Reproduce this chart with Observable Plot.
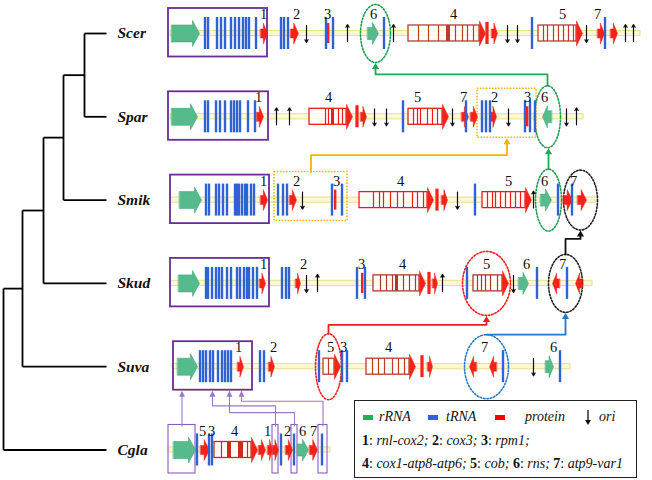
<!DOCTYPE html>
<html><head><meta charset="utf-8">
<script src="https://cdn.jsdelivr.net/npm/d3@7"></script>
<script src="https://cdn.jsdelivr.net/npm/@observablehq/plot@0.6"></script>
<style>
body{margin:0;background:#fff;}
#wrap{position:relative;width:652px;height:480px;overflow:hidden;}
#legend{position:absolute;left:354px;top:400px;width:283px;height:78px;border:1.8px solid #222;box-sizing:border-box;font-family:"Liberation Serif","Times New Roman",Times,serif;font-size:14px;color:#111;background:#fff;}
#legend .row{position:absolute;left:7px;white-space:nowrap;line-height:16px;}
#legend .sw{position:absolute;width:10px;height:5px;top:6px;}
#legend .lab{position:absolute;font-style:italic;}
</style></head>
<body>
<div id="wrap"><div id="chart"></div>
<div id="legend">
  <div class="row" style="top:8px;left:0;width:280px;height:16px;">
    <span class="sw" style="left:8px;background:#1fae5a"></span><span class="lab" style="left:24px">rRNA</span>
    <span class="sw" style="left:73px;background:#2f62d2"></span><span class="lab" style="left:91px">tRNA</span>
    <span class="sw" style="left:140px;background:#ff0000"></span><span class="lab" style="left:170px">protein</span>
    <svg style="position:absolute;left:229px;top:0" width="8" height="17"><line x1="4" y1="1" x2="4" y2="13" stroke="#111" stroke-width="1.3"/><path d="M1,11 L4,16 L7,11 Z" fill="#111"/></svg>
    <span class="lab" style="left:244px">ori</span>
  </div>
  <div class="row" style="top:32px;"><b>1</b>: <i>rnl-cox2;</i> <b>2</b>: <i>cox3;</i> <b>3</b>: <i>rpm1;</i></div>
  <div class="row" style="top:55px;"><b>4</b>: <i>cox1-atp8-atp6;</i> <b>5</b>: <i>cob;</i> <b>6</b>: <i>rns;</i> <b>7</b>: <i>atp9-var1</i></div>
</div>
</div>
<script>
// ---------------- DATA ----------------
const species = ["Scer","Spar","Smik","Skud","Suva","Cgla"];
// tree joins: [node, childA, childB, depth]
const treeJoins = [["n1","Scer","Spar",84],["n2","n1","Smik",63],["n3","n2","Skud",43],["n4","n3","Suva",22],["root","n4","Cgla",3]];
const leafDepth = 106;

// genome backbone extents
const backbone = [["Scer",170,640],["Spar",170,583],["Smik",170,595],["Skud",170,592],["Suva",172,570],["Cgla",168,330]];
// large rRNA (rnl)
const rnl = [["Scer",171,199],["Spar",171,197],["Smik",179,201],["Skud",178,199],["Suva",177,197],["Cgla",173,195]];
// small rRNA (rns, gene 6): species, start, end, strand
const rns = [["Scer",367,378,1],["Spar",542,551,-1],["Smik",540,551,1],["Skud",518,528,1],["Suva",545,553,1],["Cgla",297,308,1]];
// tRNA genes
const trnaScer = [205,208,217,221,225,231,235,239,243,246,249,256,281,284,288,326,333,384,532,605];
const trnaSpar = [205,208,216,220,225,231,234,237,240,248,255,403,466,482,486,490,525,530,535];
const trnaSmik = [206,209,216,219,223,227,235,237,239,242,245,247,251,254,278,283,287,332,342,475,558,572];
const trnaSkud = [206,208,212,216,219,222,227,231,237,240,244,247,249,253,257,282,286,289,357,365,467,537,567];
const trnaSuva = [200,203,206,210,213,218,222,225,228,231,260,264,319,342,347,503,560];
const trnaCgla = [197,209,212,281,294,322];
// rpm1 (gene 3) thin protein bars
const rpm1 = [["Scer",328],["Spar",527],["Smik",335],["Skud",362]];
// other short protein ORFs (bars)
const orfBars = [["Scer",487],["Spar",357],["Smik",437],["Skud",429],["Suva",422]];
// short protein genes: species, start, end, strand
const proteins = [
 ["Scer",260,267,1],["Scer",290,298,1],["Scer",491,497,1],["Scer",597,604,1],["Scer",610,617,1],
 ["Spar",256,263,1],["Spar",360,366,1],["Spar",461,468,1],["Spar",470,477,1],["Spar",490,496,1],
 ["Smik",260,267,1],["Smik",289,296,1],["Smik",441,447,1],["Smik",563,572,1],["Smik",577,586,1],
 ["Skud",259,265,1],["Skud",295,300,1],["Skud",432,437,1],["Skud",552,559,-1],["Skud",575,582,-1],
 ["Suva",237,243,1],["Suva",268,274,1],["Suva",427,432,1],["Suva",469,476,-1],["Suva",489,496,-1],
 ["Cgla",200,209,1],["Cgla",258,265,1],["Cgla",267,272,1],["Cgla",272,278,1],["Cgla",285,292,1],["Cgla",309,317,1]
];
// intron-rich genes (4 = cox1-atp8-atp6, 5 = cob): species, start, end, exon boundaries, filled exons
const mosaic = [
 ["Scer",408,485,[418,428,438,455,462,467,473],[[446,450]]],
 ["Scer",538,582,[543,547,553,558,563,568,573],[]],
 ["Spar",309,352,[325,328,338,342],[[331,334]]],
 ["Spar",408,448,[413,417,420,427,432,437],[]],
 ["Smik",359,433,[373,379,383,390,397,403,412,417,423],[]],
 ["Smik",482,531,[487,492,495,500,505,510,515,520],[]],
 ["Skud",373,425,[380,386,392,403,409,415],[[395,398]]],
 ["Skud",473,508,[477,481,485,490,497],[]],
 ["Suva",366,415,[372,378,384,392,398,404],[]],
 ["Suva",323,340,[328],[]],
 ["Cgla",214,257,[221,247],[[227,231],[238,243]]]
];
// replication origins: species, position, direction (1 down / -1 up), putative (dashed)
const ori = [
 ["Scer",306,1,1],["Scer",347,-1,1],["Scer",393,-1,0],["Scer",507,1,1],["Scer",517,1,0],["Scer",586,1,1],["Scer",625,-1,0],["Scer",633,-1,1],
 ["Spar",276,-1,0],["Spar",289,-1,0],["Spar",374,1,0],["Spar",386,1,0],["Spar",452,1,1],["Spar",508,1,0],["Spar",566,1,0],["Spar",576,-1,0],
 ["Smik",302,1,0],["Smik",457,1,0],["Smik",533,-1,0],
 ["Skud",306,1,0],["Skud",317,-1,0],["Skud",442,-1,0],["Skud",513,1,0],
 ["Suva",533,1,0]
];
// gene number labels
const geneLabels = [
 ["Scer","1",263],["Scer","2",296],["Scer","3",327],["Scer","6",373],["Scer","4",453],["Scer","5",562],["Scer","7",597],
 ["Spar","1",258],["Spar","4",328],["Spar","5",417],["Spar","7",463],["Spar","2",494],["Spar","3",527],["Spar","6",544],
 ["Smik","1",263],["Smik","2",296],["Smik","3",336],["Smik","4",400],["Smik","5",508],["Smik","6",544],["Smik","7",573],
 ["Skud","1",263],["Skud","2",303],["Skud","3",361],["Skud","4",402],["Skud","5",486],["Skud","6",526],["Skud","7",562],
 ["Suva","1",238],["Suva","2",273],["Suva","5",330],["Suva","3",343],["Suva","4",388],["Suva","7",484],["Suva","6",553],
 ["Cgla","5",202],["Cgla","3",211],["Cgla","4",234],["Cgla","1",267],["Cgla","2",287],["Cgla","6",302],["Cgla","7",313]
];
// conserved blocks (purple boxes)
const blocks = [["Scer",168,267],["Spar",168,268],["Smik",170,269],["Skud",170,269],["Suva",173,252],["Cgla",168,195],["Cgla",272,278],["Cgla",291,297],["Cgla",318,327]];
// translocated segments (orange dotted boxes)
const segments = [["Spar",477,536],["Smik",274,347]];
// highlighted regions: species, centre, half width, half height, kind
const regions = [
 ["Scer",375,15,29,"rRNA"],["Spar",547,13,31,"rRNA"],["Smik",548,13,31,"rRNA"],["Smik",580,17,30,"atp9"],
 ["Skud",486,24,32,"cob"],["Skud",565,17,29,"atp9"],["Suva",328,13,33,"cob"],["Suva",486,22,32,"atp9b"]
];
// rearrangement links between regions: from region, to region, elbow fraction
const regionLinks = [[1,0,0.5],[2,1,0.5],[5,3,0.65],[6,4,0.5],[7,5,0]];
const segmentLinks = [[1,0,0.5]];
// Cgla blocks -> Suva block: from block index, target x, elbow fraction
const blockLinks = [[5,182,0],[6,212,0.57],[7,229,0.38],[8,241,0.70]];

// ---------------- STYLE / LAYOUT ----------------
const ROW0 = 33, ROWSTEP = 83.3;
const rowY = sp => ROW0 + ROWSTEP * species.indexOf(sp);
const C = {green:"#55bb8c", blue:"#2f62d2", red:"#f4221a"};
const regionColor = {rRNA:"#1f9e4f", atp9:"#222", cob:"#ee2020", atp9b:"#2a7cc4"};
const linkColor = {rRNA:"#1aab5a", atp9:"#111", cob:"#ee1c1c", atp9b:"#2278c6", seg:"#f5b400", block:"#9a7ac8"};
const mosaicStroke = {Scer:"#c0392b",Spar:"#f01a1a",Smik:"#f01a1a",Skud:"#b5342a",Suva:"#c0392b",Cgla:"#d02a20"};
const serif = "Liberation Serif";

// ---------------- DERIVED GEOMETRY ----------------
const nodes = {};
species.forEach(s => nodes[s] = {x: leafDepth, y: rowY(s)});
const treeEdges = [];
for (const [n,a,b,d] of treeJoins) {
  const A = nodes[a], B = nodes[b];
  nodes[n] = {x: d, y: (A.y + B.y) / 2};
  treeEdges.push({x1:d,y1:A.y,x2:A.x,y2:A.y},{x1:d,y1:B.y,x2:B.x,y2:B.y},{x1:d,y1:A.y,x2:d,y2:B.y});
}

function arrowPts(x0,x1,y,dir,bodyH,headH,headLen){
  return dir > 0
   ? [[x0,y-bodyH],[x1-headLen,y-bodyH],[x1-headLen,y-headH],[x1,y],[x1-headLen,y+headH],[x1-headLen,y+bodyH],[x0,y+bodyH]]
   : [[x1,y-bodyH],[x0+headLen,y-bodyH],[x0+headLen,y-headH],[x0,y],[x0+headLen,y+headH],[x0+headLen,y+bodyH],[x1,y+bodyH]];
}
let pid = 0;
const toPoly = pts => { const id = pid++; return pts.map(([x,y]) => ({id,x,y})); };

const rnlPolys = rnl.flatMap(([s,a,b]) => toPoly(arrowPts(a,b,rowY(s),1,8.5,13,7)));
const rnsPolys = rns.flatMap(([s,a,b,d]) => toPoly(arrowPts(a,b,rowY(s),d,6,11,(b-a)*0.55)));
const protPolys = proteins.flatMap(([s,a,b,d]) => toPoly(arrowPts(a,b,rowY(s),d,4.5,10.5,(b-a)*0.6)));
const headPolys = mosaic.flatMap(([s,a,b]) => toPoly(arrowPts(b-6,b,rowY(s),1,0,12.5,6)));

const trna = [["Scer",trnaScer],["Spar",trnaSpar],["Smik",trnaSmik],["Skud",trnaSkud],["Suva",trnaSuva],["Cgla",trnaCgla]]
  .flatMap(([s,xs]) => xs.map(x => ({s, x, y: rowY(s)})));

const mosaicBoxes = mosaic.map(([s,a,b]) => ({s, x1:a, x2:b-6, y: rowY(s)}));
const mosaicDiv = mosaic.flatMap(([s,a,b,divs]) => divs.map(x => ({s, x, y: rowY(s)})));
const mosaicFill = mosaic.flatMap(([s,a,b,divs,fills]) => fills.map(([f1,f2]) => ({s, x1:f1, x2:f2, y: rowY(s)})));

const ellipsePts = regions.flatMap(([s,cx,rx,ry,k], i) => d3.range(73).map(j => {
  const t = j / 72 * 2 * Math.PI; return {id:i, k, x: cx + rx*Math.cos(t), y: rowY(s) + ry*Math.sin(t)};
}));

// elbow connector ending with an upward arrowhead
const HEAD = 6;
function elbow(x0,y0,x1,y1,frac){
  if (Math.abs(x0-x1) < 3) return [[x0,y0],[x0,y1]];
  const ym = y0 + (y1 - y0) * frac;
  return [[x0,y0],[x0,ym],[x1,ym],[x1,y1]];
}
const linkPaths = [], linkHeads = [];
function addLink(id, k, pts, sw){
  const [tx,ty] = pts[pts.length-1];
  const body = pts.slice(0,-1).concat([[tx, ty + HEAD - 0.5]]);
  body.forEach(([x,y]) => linkPaths.push({id, k, sw, x, y}));
  const hw = sw > 1.5 ? 3.6 : 3;
  [[tx,ty],[tx-hw,ty+HEAD],[tx+hw,ty+HEAD]].forEach(([x,y]) => linkHeads.push({id, k, x, y}));
}
regionLinks.forEach(([f,t,fr], i) => {
  const F = regions[f], T = regions[t];
  addLink("r"+i, F[4], elbow(F[1], rowY(F[0]) - F[3], T[1], rowY(T[0]) + T[3] + 0.5, fr), 1.8);
});
segmentLinks.forEach(([f,t,fr], i) => {
  const F = segments[f], T = segments[t];
  addLink("s"+i, "seg", elbow((F[1]+F[2])/2, rowY(F[0]) - 28, (T[1]+T[2])/2, rowY(T[0]) + 21.5, fr), 1.8);
});
blockLinks.forEach(([f,tx,fr], i) => {
  const F = blocks[f];
  addLink("b"+i, "block", elbow((F[1]+F[2])/2, rowY(F[0]) - 24, tx, rowY("Suva") + 24, fr), 1.1);
});

// ---------------- PLOT ----------------
const chart = Plot.plot({
  width: 652, height: 480, margin: 0,
  x: {domain:[0,652], range:[0,652], axis:null},
  y: {domain:[0,480], range:[0,480], axis:null},
  style: {background:"white"},
  marks: [
    Plot.link(treeEdges, {x1:"x1", y1:"y1", x2:"x2", y2:"y2", stroke:"#000", strokeWidth:1.8}),
    Plot.text(species, {x: leafDepth + 11, y: d => rowY(d), text: d => d, textAnchor:"start",
      fontFamily: serif, fontSize: 15.5, fontWeight:"bold", fontStyle:"italic", fill:"#111"}),
    // backbone
    Plot.rect(backbone, {x1: d => d[1], x2: d => d[2], y1: d => rowY(d[0]) - 2.6, y2: d => rowY(d[0]) + 2.6,
      fill:"#fbf8d2", stroke:"#e4dc8c", strokeWidth:0.9}),
    // blocks
    Plot.rect(blocks, {x1: d => d[1], x2: d => d[2], y1: d => rowY(d[0]) - 25, y2: d => rowY(d[0]) + 23.5,
      fill:"none", stroke: d => d[0] === "Cgla" ? "#8a5cc0" : "#6a2c95", strokeWidth: d => d[0] === "Cgla" ? 1.1 : 1.8}),
    Plot.rect(segments, {x1: d => d[1], x2: d => d[2], y1: d => rowY(d[0]) - 28, y2: d => rowY(d[0]) + 21,
      fill:"none", stroke:"#f5b400", strokeWidth:1.5, strokeDasharray:"1.5,1.5"}),
    // highlighted regions
    Plot.line(ellipsePts, {x:"x", y:"y", z:"id", stroke: d => regionColor[d.k], strokeWidth:1.6,
      strokeDasharray:"1.6,1.8", curve:"linear-closed"}),
    // links
    Plot.line(linkPaths, {x:"x", y:"y", z:"id", stroke: d => linkColor[d.k], strokeWidth: d => d.sw}),
    Plot.line(linkHeads, {x:"x", y:"y", z:"id", fill: d => linkColor[d.k], stroke:"none", curve:"linear-closed"}),
    // mosaic genes
    Plot.rect(mosaicBoxes, {x1:"x1", x2:"x2", y1: d => d.y - 8, y2: d => d.y + 8, fill:"white", fillOpacity:0.75,
      stroke: d => mosaicStroke[d.s], strokeWidth:1.3}),
    Plot.rect(mosaicFill, {x1:"x1", x2:"x2", y1: d => d.y - 8, y2: d => d.y + 8, fill: d => mosaicStroke[d.s]}),
    Plot.ruleX(mosaicDiv, {x:"x", y1: d => d.y - 8, y2: d => d.y + 8, stroke: d => mosaicStroke[d.s], strokeWidth:1.2}),
    Plot.line(headPolys, {x:"x", y:"y", z:"id", fill: C.red, stroke: C.red, strokeWidth:0.5, curve:"linear-closed"}),
    // rRNA
    Plot.line(rnlPolys, {x:"x", y:"y", z:"id", fill: C.green, stroke:"#44a877", strokeWidth:0.6, curve:"linear-closed"}),
    Plot.line(rnsPolys, {x:"x", y:"y", z:"id", fill: C.green, stroke:"#44a877", strokeWidth:0.6, curve:"linear-closed"}),
    // proteins
    Plot.line(protPolys, {x:"x", y:"y", z:"id", fill: C.red, stroke: C.red, strokeWidth:0.5, curve:"linear-closed"}),
    Plot.rect(orfBars, {x1: d => d[1] - 1.6, x2: d => d[1] + 1.6, y1: d => rowY(d[0]) - 11, y2: d => rowY(d[0]) + 11, fill: C.red}),
    // tRNA
    Plot.rect(trna, {x1: d => d.x - 1.2, x2: d => d.x + 1.2, y1: d => d.y - 16, y2: d => d.y + 16, fill: C.blue}),
    Plot.rect(rpm1, {x1: d => d[1] - 1, x2: d => d[1] + 1.4, y1: d => rowY(d[0]) - 10, y2: d => rowY(d[0]) + 10, fill: C.red}),
    // origins
    Plot.arrow(ori, {x1: d => d[1], x2: d => d[1], y1: d => rowY(d[0]) - 8*d[2], y2: d => rowY(d[0]) + 9*d[2],
      stroke:"#111", strokeWidth:1.2, headLength:4, strokeDasharray: d => d[3] ? "2,1.5" : null}),
    // gene numbers
    Plot.text(geneLabels, {x: d => d[2], y: d => rowY(d[0]) - 19, text: d => d[1], fontFamily: serif, fontSize: 14.5, fill:"#111"})
  ]
});
document.getElementById("chart").appendChild(chart);
</script>
</body></html>
